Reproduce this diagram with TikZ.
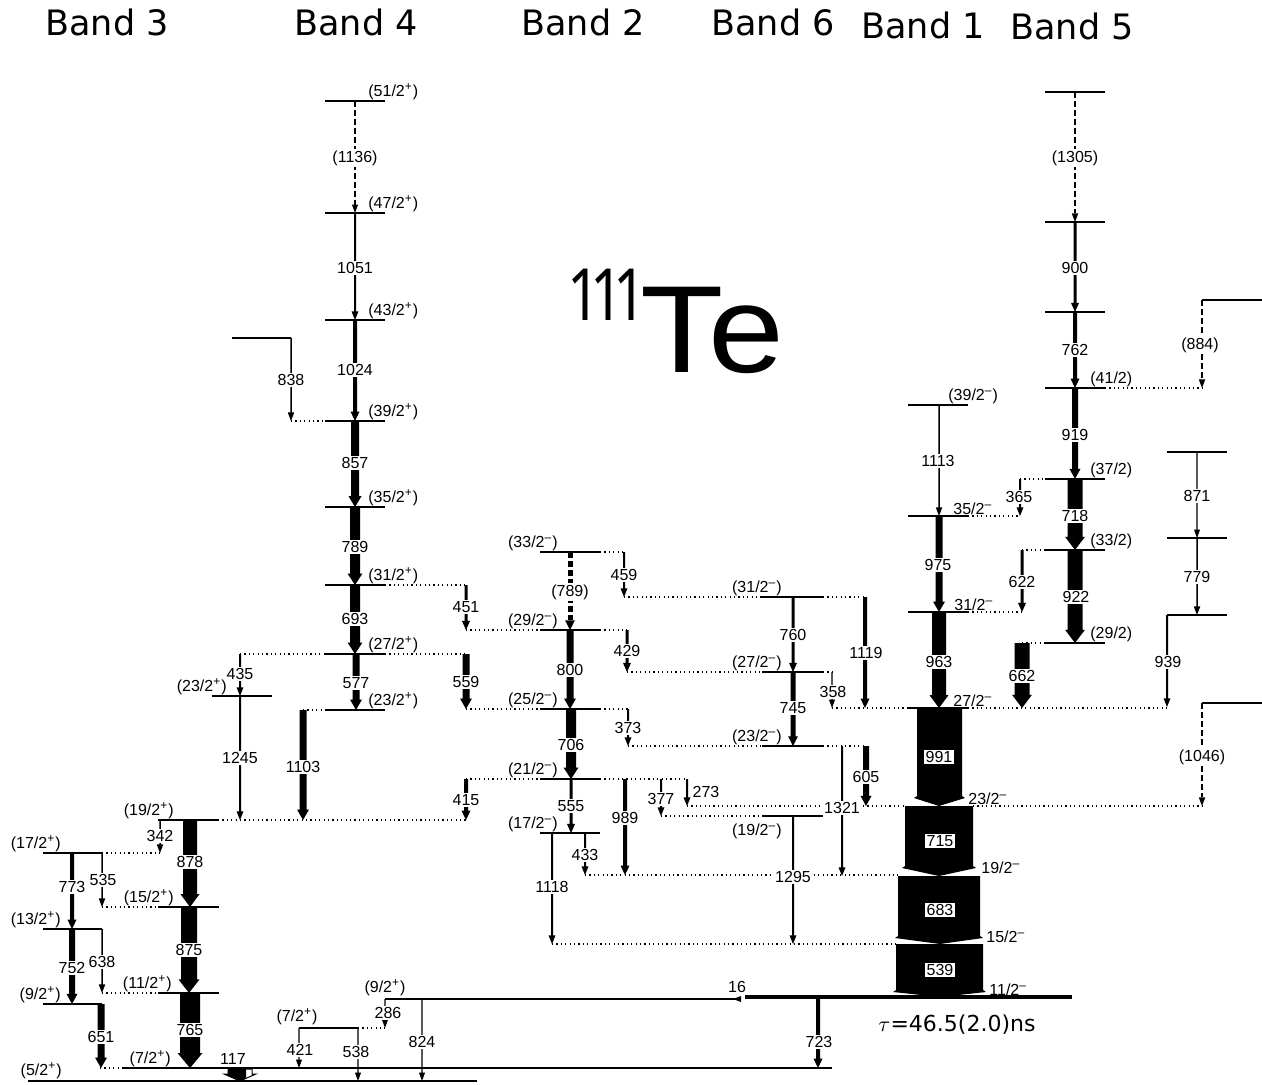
\documentclass[tikz,border=0pt]{standalone}
\usepackage{fontspec}
\setmainfont{Liberation Sans}
\newfontfamily\dejavu{DejaVu Sans}
\newfontfamily\notos{Noto Sans}
\usepackage{graphicx}
\newcommand{\splus}{\textsuperscript{+}}
\newcommand{\sminus}{\textsuperscript{–}}
% gamma transition: x, ytop, ybot, width(px), label pos, label
\newcommand{\gtr}[6]{%
 \pgfmathsetmacro\gHW{max(#4+5,6)}%
 \pgfmathsetmacro\gHL{8+0.35*#4}%
 \pgfmathsetmacro\gXL{#1-#4/2}%
 \pgfmathsetmacro\gXR{#1+#4/2}%
 \pgfmathsetmacro\gHXL{#1-\gHW/2}%
 \pgfmathsetmacro\gHXR{#1+\gHW/2}%
 \pgfmathsetmacro\gYB{#3-\gHL}%
 \fill (\gXL,#2) -- (\gXR,#2) -- (\gXR,\gYB) -- (\gHXR,\gYB) -- (#1,#3) -- (\gHXL,\gYB) -- (\gXL,\gYB) -- cycle;
 \node[lab] at (#5) {#6};}
\newcommand{\gtrd}[6]{%
 \pgfmathsetmacro\gHW{max(#4+5,6)}%
 \pgfmathsetmacro\gHL{8+0.35*#4}%
 \pgfmathsetmacro\gHXL{#1-\gHW/2}%
 \pgfmathsetmacro\gHXR{#1+\gHW/2}%
 \pgfmathsetmacro\gYB{#3-\gHL}%
 \draw[line width=#4*0.5pt, dash pattern=on 3pt off 1.5pt] (#1,#2) -- (#1,\gYB);
 \fill (\gHXR,\gYB) -- (#1,#3) -- (\gHXL,\gYB) -- cycle;
 \node[lab] at (#5) {#6};}
\begin{document}
\begin{tikzpicture}[x=0.5pt,y=-0.5pt,
  lab/.style={fill=white,inner sep=0.6pt,font=\fontsize{8}{9}\selectfont},
  lvl/.style={inner sep=0.5pt,font=\fontsize{8}{9}\selectfont},
  lev/.style={line width=0.7pt},
  dots/.style={line width=0.6pt,dash pattern=on 0.6pt off 1.6pt},
  title/.style={font=\dejavu\fontsize{17.5}{20}\selectfont},
  wbox/.style={fill=white,inner sep=0.8pt,font=\fontsize{8}{9}\selectfont},
  one/.style={anchor=base,inner sep=0,font=\notos\fontsize{36}{40}\selectfont}]
\fill[white] (0,0) rectangle (1262,1085);
\useasboundingbox (0,0) rectangle (1262,1085);

% titles
\node[title] (t3) at (107,22) {Band 3};
\node[title] (t4) at (356,22) {Band 4};
\node[title] (t2) at (583,22) {Band 2};
\node[title] (t6) at (773,22) {Band 6};
\node[title] (t1) at (923,25) {Band 1};
\node[title] (t5) at (1072,26) {Band 5};
\node[one] (m1) at (584,321) {\scalebox{0.8}[1]{1}};
\node[one] (m2) at (607,321) {\scalebox{0.8}[1]{1}};
\node[one] (m3) at (630,321) {\scalebox{0.8}[1]{1}};
\node[anchor=base west,inner sep=0,font=\fontsize{62}{70}\selectfont] (elem) at (640,372) {\scalebox{1.1}[1]{Te}};

% ---------------- levels
\foreach \y in {101,213,320,421,507,585,654,710} \draw[lev] (325,\y) -- (385,\y);
\draw[lev] (232,338) -- (291,338);
\draw[lev] (158,820) -- (218,820);
\draw[lev] (158,907) -- (219,907);
\draw[lev] (158,993) -- (219,993);
\draw[lev] (43,853) -- (102,853);
\draw[lev] (43,929) -- (102,929);
\draw[lev] (43,1004) -- (102,1004);
\draw[lev] (212,696) -- (272,696);
\foreach \y in {552,630,709,779,833} \draw[lev] (540,\y) -- (600,\y);
\foreach \y in {597,672,746,816} \draw[lev] (762,\y) -- (823,\y);
\foreach \y in {405,516,612,708} \draw[lev] (908,\y) -- (968,\y);
\foreach \y in {92,222,312,388,479,550,643} \draw[lev] (1045,\y) -- (1105,\y);
\foreach \y in {452,538,615} \draw[lev] (1167,\y) -- (1227,\y);
\draw[lev] (1202,300) -- (1262,300);
\draw[lev] (1202,703) -- (1262,703);
\draw[lev] (123,1068) -- (832,1068);
\draw[line width=1.1pt] (28,1081) -- (477,1081);
\draw[lev] (385,999) -- (741,999);
\draw[lev] (299,1028) -- (358,1028);
\draw[line width=1.8pt] (745,997) -- (1072,997);

% ---------------- dotted links
\foreach \y/\a/\b in {421/291/325, 585/385/466, 630/466/540, 654/240/327, 654/385/466,
  709/466/540, 710/303/327, 779/466/540, 820/218/466, 853/102/160, 907/102/158,
  993/102/158, 1068/100/123, 552/600/624, 597/624/762, 630/600/627, 672/627/762,
  709/600/628, 746/628/762, 779/600/687, 816/661/762, 806/687/905, 875/585/898,
  944/552/896, 597/823/865, 672/823/832, 708/832/908, 746/823/866, 516/968/1020,
  479/1020/1045, 612/968/1022, 550/1022/1045, 643/1022/1045, 708/968/1167,
  388/1105/1202, 806/973/1202, 1028/358/385}
  \draw[dots] (\a,\y) -- (\b,\y);

% ---------------- band 1 blocks
\fill (917,708) -- (962,708) -- (962,796) -- (965,798) -- (939,806) -- (914,798) -- (917,796) -- cycle;
\fill (905,806) -- (973,806) -- (973,866) -- (976,868) -- (939,876) -- (902,868) -- (905,866) -- cycle;
\fill (898,876) -- (980,876) -- (980,936) -- (983,938) -- (940,944) -- (895,938) -- (898,936) -- cycle;
\fill (896,944) -- (983,944) -- (983,990) -- (986,992) -- (940,997) -- (893,992) -- (896,990) -- cycle;
\node[wbox] (g991) at (939,757) {991};
\node[wbox] (g715) at (940,841) {715};
\node[wbox] (g683) at (940,910) {683};
\node[wbox] (g539) at (940,970) {539};

% ---------------- band 4
\gtrd{355}{101}{213}{1.2}{355,158}{(1136)}
\gtr{355}{213}{320}{2}{355,268}{1051}
\gtr{355}{320}{421}{4}{355,370}{1024}
\gtr{355}{421}{507}{8}{355,463}{857}
\gtr{355}{507}{585}{10}{355,547}{789}
\gtr{355}{585}{654}{10}{355,619}{693}
\gtr{356}{654}{710}{7}{356,683}{577}
\gtr{291}{338}{421}{1.5}{291,380}{838}
\gtr{466}{585}{630}{3}{466,607}{451}
\gtr{240}{654}{696}{2}{240,674}{435}
\gtr{240}{696}{820}{2}{240,758}{1245}
\gtr{466}{654}{709}{7}{466,682}{559}
\gtr{303}{710}{820}{7}{303,767}{1103}
\gtr{466}{779}{820}{4}{466,800}{415}

% ---------------- band 3
\gtr{160}{820}{853}{1.5}{160,836}{342}
\gtr{190}{820}{907}{14}{190,862}{878}
\gtr{189}{907}{993}{16}{189,950}{875}
\gtr{190}{993}{1068}{20}{190,1030}{765}
\gtr{72}{853}{929}{4}{72,887}{773}
\gtr{102}{853}{907}{1.5}{103,880}{535}
\gtr{72}{929}{1004}{6}{72,968}{752}
\gtr{102}{929}{993}{1.5}{102,962}{638}
\gtr{101}{1004}{1068}{7}{101,1037}{651}

% ---------------- band 2
\gtrd{570}{552}{630}{5}{570,592}{(789)}
\gtr{570}{630}{709}{7}{570,670}{800}
\gtr{571}{709}{779}{10}{571,745}{706}
\gtr{571}{779}{833}{3}{571,806}{555}
\gtr{624}{552}{597}{2}{624,575}{459}
\gtr{627}{630}{672}{3}{627,651}{429}
\gtr{628}{709}{746}{2}{628,728}{373}
\gtr{625}{779}{875}{4}{625,818}{989}
\gtr{661}{779}{816}{2}{661,799}{377}
\gtr{687}{779}{806}{2}{706,792}{273}
\gtr{585}{833}{875}{2}{585,855}{433}
\gtr{552}{833}{944}{2}{552,887}{1118}

% ---------------- band 6
\gtr{793}{597}{672}{3}{793,635}{760}
\gtr{793}{672}{746}{5}{793,708}{745}
\gtr{865}{597}{708}{4}{866,653}{1119}
\gtr{832}{672}{708}{1.2}{833,692}{358}
\gtr{842}{746}{876}{2}{842,808}{1321}
\gtr{866}{746}{806}{6}{866,777}{605}
\gtr{793}{816}{944}{2}{793,877}{1295}

% ---------------- band 1
\gtr{939}{405}{516}{1.5}{938,461}{1113}
\gtr{939}{516}{612}{7}{938,565}{975}
\gtr{939}{612}{708}{14}{939,662}{963}
\gtr{1020}{479}{516}{2}{1019,497}{365}
\gtr{1022}{550}{612}{3}{1022,582}{622}
\gtr{1022}{643}{708}{15}{1022,676}{662}

% ---------------- band 5
\gtrd{1075}{92}{222}{1.5}{1075,158}{(1305)}
\gtr{1075}{222}{312}{3}{1075,268}{900}
\gtr{1075}{312}{388}{4}{1075,350}{762}
\gtr{1075}{388}{479}{6}{1075,435}{919}
\gtr{1075}{479}{550}{15}{1075,516}{718}
\gtr{1075}{550}{643}{15}{1076,597}{922}
\gtr{1197}{452}{538}{1.2}{1197,496}{871}
\gtr{1197}{538}{615}{1.5}{1197,577}{779}
\gtr{1167}{615}{707}{2}{1168,662}{939}
\gtrd{1202}{300}{388}{1.5}{1200,345}{(884)}
\gtrd{1202}{703}{806}{1.5}{1202,757}{(1046)}

% ---------------- bottom
\gtr{385}{999}{1028}{1.2}{388,1013}{286}
\gtr{299}{1028}{1068}{1.2}{300,1050}{421}
\gtr{358}{1028}{1081}{1.2}{356,1052}{538}
\gtr{422}{999}{1081}{1.2}{422,1042}{824}
\gtr{818}{997}{1068}{4}{819,1042}{723}
% 117
\begin{scope}
 \clip (200,1060) rectangle (246,1085);
 \fill (228,1069) -- (252,1069) -- (252,1074) -- (256,1074) -- (240,1081) -- (224,1074) -- (228,1074) -- cycle;
\end{scope}
\draw[line width=0.5pt] (228,1069) -- (252,1069) -- (252,1074) -- (256,1074) -- (240,1081) -- (224,1074) -- (228,1074) -- cycle;
\node[lab,fill=none] (g117) at (233,1059) {117};
% 16
\fill (733,999) -- (741,996) -- (741,1002) -- cycle;
\node[lab,fill=none] (g16) at (737,987) {16};

% ---------------- level labels
\foreach \y/\t in {101/51, 213/47, 320/43, 421/39, 507/35, 585/31, 654/27, 710/23}
  \node[lvl,anchor=south west] at (367,\y) {(\t/2\splus)};
\node[lvl,anchor=south east] at (228,696) {(23/2\splus)};
\node[lvl,anchor=south east] at (175,820) {(19/2\splus)};
\node[lvl,anchor=south east] at (175,907) {(15/2\splus)};
\node[lvl,anchor=south east] at (173,993) {(11/2\splus)};
\node[lvl,anchor=south east] at (172,1068) {(7/2\splus)};
\node[lvl,anchor=south east] at (62,853) {(17/2\splus)};
\node[lvl,anchor=south east] at (62,929) {(13/2\splus)};
\node[lvl,anchor=south east] at (62,1004) {(9/2\splus)};
\node[lvl,anchor=south east] at (63,1080) {(5/2\splus)};
\foreach \y/\t in {552/33, 630/29, 709/25, 779/21, 833/17}
  \node[lvl,anchor=south east] at (559,\y) {(\t/2\sminus)};
\foreach \y/\t in {597/31, 672/27, 746/23}
  \node[lvl,anchor=south east] at (783,\y) {(\t/2\sminus)};
\node[lvl,anchor=north east] at (783,822) {(19/2\sminus)};
\node[lvl,anchor=south west] at (947,405) {(39/2\sminus)};
\node[lvl,anchor=south west] at (952,516) {35/2\sminus};
\node[lvl,anchor=south west] at (953,612) {31/2\sminus};
\node[lvl,anchor=south west] at (952,708) {27/2\sminus};
\node[lvl,anchor=south west] at (967,806) {23/2\sminus};
\node[lvl,anchor=south west] at (980,875) {19/2\sminus};
\node[lvl,anchor=south west] at (985,944) {15/2\sminus};
\node[lvl,anchor=south west] at (988,997) {11/2\sminus};
\foreach \y/\t in {388/41, 479/37, 550/33, 643/29}
  \node[lvl,anchor=south west] at (1089,\y) {(\t/2)};
\node[lvl] at (385,988) {(9/2\splus)};
\node[lvl] at (297,1017) {(7/2\splus)};
\node[font=\dejavu\fontsize{11}{13}\selectfont] (tau) at (957,1025) {$\tau$=46.5(2.0)ns};
\end{tikzpicture}
\end{document}
